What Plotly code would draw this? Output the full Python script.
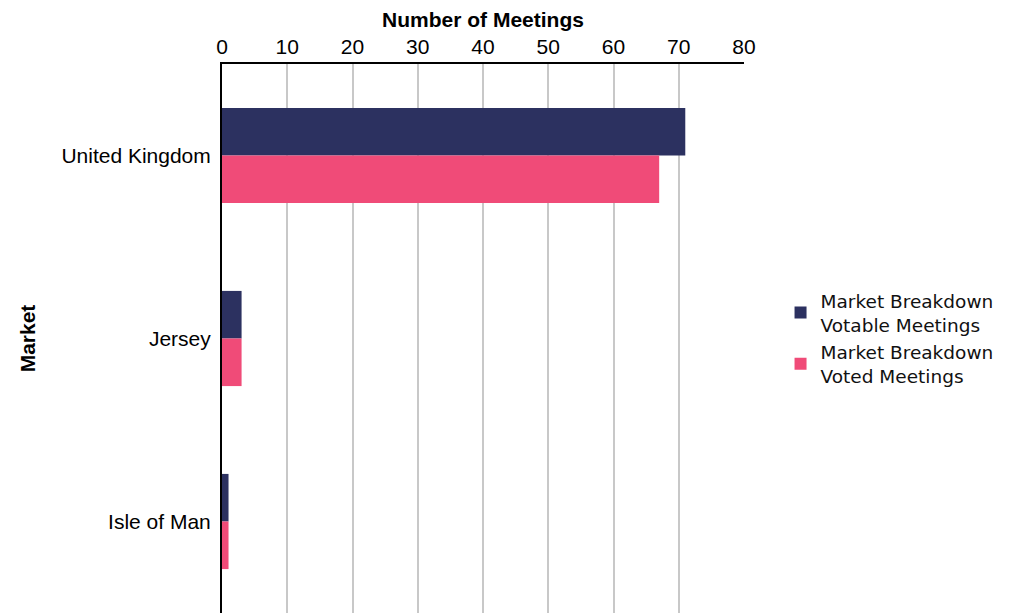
import plotly.graph_objects as go

markets = ["United Kingdom", "Jersey", "Isle of Man"]
votable = [71, 3, 1]
voted = [67, 3, 1]
series_names = ["Market Breakdown<br>Votable Meetings", "Market Breakdown<br>Voted Meetings"]
x_ticks = [0, 10, 20, 30, 40, 50, 60, 70, 80]

fig = go.Figure()
fig.add_trace(go.Bar(y=markets, x=votable, orientation="h", name=series_names[0],
                     marker=dict(color="#2C3160", line=dict(width=0))))
fig.add_trace(go.Bar(y=markets, x=voted, orientation="h", name=series_names[1],
                     marker=dict(color="#F04B78", line=dict(width=0))))

fig.update_layout(
    width=1021, height=613,
    margin=dict(l=214, r=285, t=56, b=8, autoexpand=False),
    paper_bgcolor="white", plot_bgcolor="white",
    barmode="group", bargap=0.48, bargroupgap=0,
    font=dict(family="Liberation Sans, Arial, sans-serif", size=21, color="black"),
    showlegend=True,
    legend=dict(x=1.07, xanchor="left", y=0.5, yanchor="middle",
                font=dict(family="DejaVu Sans, sans-serif", size=18.5, color="#111"),
                bgcolor="rgba(0,0,0,0)", traceorder="normal"),
)
fig.update_xaxes(
    side="top", range=[0, 80], tickvals=x_ticks, ticktext=[str(v) for v in x_ticks],
    showgrid=True, gridcolor="#c8c8c8", gridwidth=1.5,
    showline=True, linecolor="black", linewidth=2, ticks="", zeroline=False,
    tickfont=dict(size=21), ticklabelstandoff=0,
    title=dict(text="<b>Number of Meetings</b>", font=dict(size=21), standoff=18),
    automargin=False,
)
fig.update_yaxes(
    autorange="reversed", showgrid=False,
    showline=True, linecolor="black", linewidth=2, ticks="",
    tickfont=dict(size=21), ticklabelstandoff=5,
    title=dict(text="<b>Market</b>", font=dict(size=21), standoff=20),
    automargin=False,
)
fig.write_html("out.html")
